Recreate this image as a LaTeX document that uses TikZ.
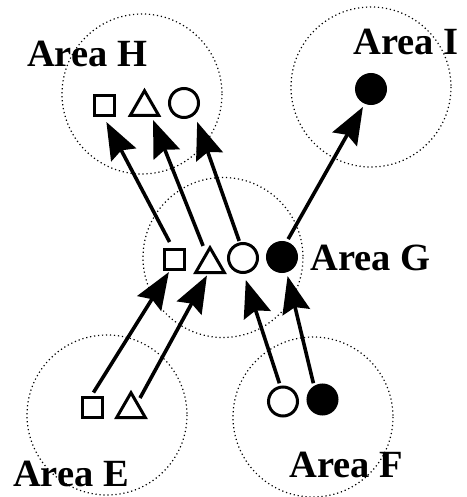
\documentclass[tikz,border=0pt]{standalone}
\usepackage{fontspec}
\setmainfont{Liberation Serif}
\usetikzlibrary{arrows.meta,shapes.geometric}
\begin{document}
\begin{tikzpicture}[x=1pt,y=-1pt,
  area/.style={draw=black,line width=1.2pt,dash pattern=on 1.2pt off 2.8pt},
  sq/.style={rectangle,draw,line width=3pt,minimum size=20pt,inner sep=0pt},
  tri/.style={regular polygon,regular polygon sides=3,draw,line width=3pt,minimum size=33pt,inner sep=0pt},
  circ/.style={circle,draw,line width=3pt,minimum size=29pt,inner sep=0pt},
  fcirc/.style={circ,fill=black},
  lbl/.style={anchor=base west,inner sep=0pt,font=\fontsize{38.5}{40}\selectfont\bfseries},
  arr/.style={-{Stealth[length=37pt,width=28pt,inset=5pt]},line width=3.6pt}]
\useasboundingbox (0,0) rectangle (466,497);
% areas
\draw[area] (142,94) circle (80);
\draw[area] (371,87) circle (80);
\draw[area] (223,257.5) circle (80);
\draw[area] (107,415) circle (80);
\draw[area] (313,417) circle (80);
% shapes
\node[sq]    (h1) at (104,106) {};
\node[tri]   (h2) at (144.5,107.25) {};
\node[circ]  (h3) at (184,103) {};
\node[fcirc] (i1) at (371,89) {};
\node[sq]    (g1) at (174.5,259) {};
\node[tri]   (g2) at (210,264.25) {};
\node[circ]  (g3) at (243,258) {};
\node[fcirc] (g4) at (282,257) {};
\node[sq]    (e1) at (92.5,407.5) {};
\node[tri]   (e2) at (131,409.25) {};
\node[circ]  (f1) at (283,401.5) {};
\node[fcirc] (f2) at (322.5,399.5) {};
% labels
\node[lbl] (tH) at (27,67) {Area H};
\node[lbl] (tI) at (353,55) {Area I};
\node[lbl] (tG) at (310,270) {Area G};
\node[lbl] (tE) at (13,486) {Area E};
\node[lbl] (tF) at (289,477) {Area F};
% arrows
\draw[arr,shorten <=6.2pt,shorten >=5.1pt] (g1.100) -- (h1.south);
\draw[arr,shorten <=6.9pt,shorten >=3.2pt] (g2.110.6) -- (h2.-53);
\draw[arr,shorten <=1.5pt,shorten >=7.4pt] (g3.102.6) -- (h3.-48.8);
\draw[arr,shorten <=3pt,shorten >=3.7pt] (g4.73.7) -- (i1.247.3);
\draw[arr,shorten <=4.1pt,shorten >=1.8pt] (e1.96) -- (g1.248);
\draw[arr,shorten <=4.3pt,shorten >=1.7pt] (e2.47) -- (g2.257);
\draw[arr,shorten <=2.6pt,shorten >=6.3pt] (f1.100.5) -- (g3.273);
\draw[arr,shorten <=2.75pt,shorten >=3.85pt] (f2.122.5) -- (g4.287.4);
\end{tikzpicture}
\end{document}
